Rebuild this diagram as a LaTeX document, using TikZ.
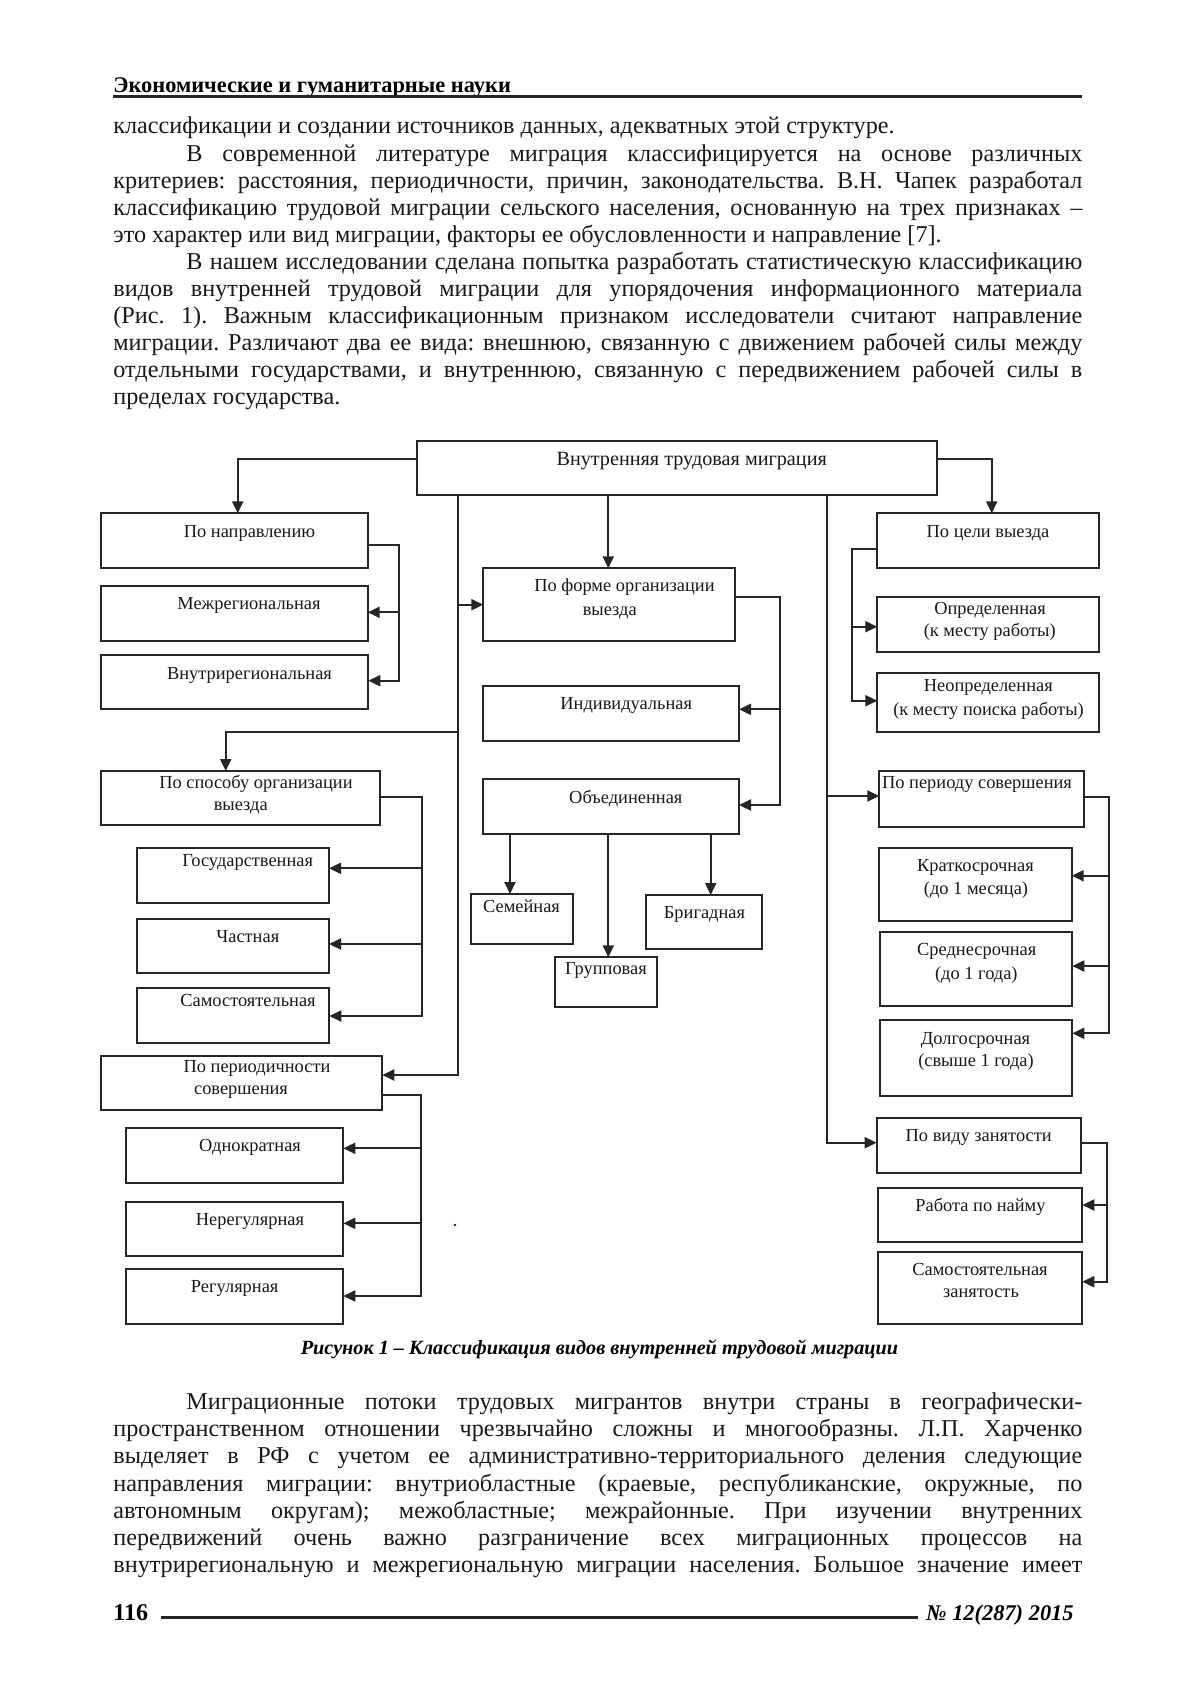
\documentclass[tikz,border=0pt]{standalone}
\usepackage{fontspec}
\setmainfont{Liberation Serif}
\usetikzlibrary{fit,arrows.meta}
\frenchspacing
\newcommand\bx[5]{\node[box, fit={(#2,#3) (#4,#5)}] (#1) {};}
\newcommand\jstline[4]{\node[body] (#1) at (#2,#3) {\makebox[\dimexpr(1082pt-#2pt)/2\relax][s]{#4}};}
\newcommand\lftline[4]{\node[body] (#1) at (#2,#3) {#4};}
\begin{document}
\begin{tikzpicture}[x=0.5pt,y=-0.5pt,
  box/.style={draw=black!85, line width=1pt, inner sep=0pt, outer sep=0pt, rectangle},
  lbl/.style={inner sep=0pt, font=\fontsize{9.2}{11}\selectfont, text height=4.1pt, text depth=0pt, anchor=center, text=black!90},
  conn/.style={draw=black!85, line width=1pt},
  arr/.style={conn, -{Triangle[length=6pt,width=5.5pt]}},
  body/.style={inner sep=0pt, anchor=base west, font=\fontsize{12.1}{13.6}\selectfont, text=black!90},
]
\useasboundingbox[fill=white] (0,0) rectangle (1200,1698);

% header
\node[inner sep=0pt, anchor=base west, font=\fontsize{11.2}{13}\bfseries\selectfont] (hdr) at (113,92) {Экономические и гуманитарные науки};
\coordinate (hr1) at (113,96.5);
\coordinate (hr2) at (1082,96.5);
\draw[line width=1.5pt, black!85] (hr1) -- (hr2);

% body text top
\lftline{p1}{113}{133.9}{классификации и создании источников данных, адекватных этой структуре.}
\jstline{p2}{186}{161.0}{В современной литературе миграция классифицируется на основе различных}
\jstline{p3}{113}{188.1}{критериев: расстояния, периодичности, причин, законодательства. В.Н. Чапек разработал}
\jstline{p4}{113}{215.2}{классификацию трудовой миграции сельского населения, основанную на трех признаках –}
\lftline{p5}{113}{242.3}{это характер или вид миграции, факторы ее обусловленности и направление [7].}
\jstline{p6}{186}{269.4}{В нашем исследовании сделана попытка разработать статистическую классификацию}
\jstline{p7}{113}{296.5}{видов внутренней трудовой миграции для упорядочения информационного материала}
\jstline{p8}{113}{323.6}{(Рис. 1). Важным классификационным признаком исследователи считают направление}
\jstline{p9}{113}{350.7}{миграции. Различают два ее вида: внешнюю, связанную с движением рабочей силы между}
\jstline{p10}{113}{377.8}{отдельными государствами, и внутреннюю, связанную с передвижением рабочей силы в}
\lftline{p11}{113}{404.9}{пределах государства.}

% boxes
\bx{top}{416.7}{441}{936.7}{495}
\bx{napr}{100.7}{513.3}{367.7}{567.7}
\bx{mezh}{100.7}{586}{367.7}{640.7}
\bx{vnutr}{100.7}{655}{368.3}{709.3}
\bx{sposob}{100.7}{771}{380}{825}
\bx{gos}{136.7}{848.3}{329}{903.3}
\bx{chast}{136.7}{919}{329}{973.3}
\bx{samo}{136.7}{988.3}{329.3}{1043.3}
\bx{perd}{100.7}{1055.7}{382.3}{1110}
\bx{odno}{126}{1128.3}{343.3}{1183.3}
\bx{nereg}{126}{1201.7}{343.3}{1256}
\bx{reg}{126}{1269}{343.3}{1324}
\bx{forma}{483.3}{568.3}{735}{641}
\bx{indiv}{483.3}{686}{739}{740.7}
\bx{obed}{483.3}{779.3}{739}{834}
\bx{sem}{470.7}{894}{573.3}{944}
\bx{grup}{555}{957.3}{657.3}{1007.3}
\bx{brig}{646}{895}{761.7}{949.3}
\bx{celi}{877.3}{513.3}{1099.3}{567.7}
\bx{opr}{877.3}{596.7}{1099.3}{651.7}
\bx{neopr}{877.3}{673.3}{1099.3}{732.3}
\bx{per2}{879.3}{770.7}{1084.3}{827.3}
\bx{krat}{879.3}{847.7}{1071.7}{921}
\bx{sred}{880}{932.3}{1072.3}{1005.7}
\bx{dolg}{880}{1020}{1072.3}{1095.7}
\bx{vid}{876.7}{1118.3}{1081}{1173.3}
\bx{rab}{877.7}{1188.3}{1082.3}{1242.3}
\bx{samz}{878.3}{1251.7}{1082.3}{1324.3}

% labels
\node[lbl, font=\fontsize{10.1}{12}\selectfont] (top-t) at (691.7,461) {Внутренняя трудовая миграция};
\node[lbl] (napr-t) at (249.5,533) {По направлению};
\node[lbl] (mezh-t) at (249,605) {Межрегиональная};
\node[lbl] (vnutr-t) at (249.5,675.7) {Внутрирегиональная};
\node[lbl] (sposob-t1) at (256,784.3) {По способу организации};
\node[lbl] (sposob-t2) at (240.7,806.7) {выезда};
\node[lbl] (gos-t) at (247.7,862.7) {Государственная};
\node[lbl] (chast-t) at (247.8,938.3) {Частная};
\node[lbl] (samo-t) at (248,1002.7) {Самостоятельная};
\node[lbl] (perd-t1) at (257,1068.3) {По периодичности};
\node[lbl] (perd-t2) at (241,1090.7) {совершения};
\node[lbl] (odno-t) at (250,1147.7) {Однократная};
\node[lbl] (nereg-t) at (250,1221.7) {Нерегулярная};
\node[lbl] (reg-t) at (234.7,1288.3) {Регулярная};
\node[lbl] (forma-t1) at (624.5,587.7) {По форме организации};
\node[lbl] (forma-t2) at (609.7,611) {выезда};
\node[lbl] (indiv-t) at (626.2,705.7) {Индивидуальная};
\node[lbl] (obed-t) at (625.8,799.3) {Объединенная};
\node[lbl] (sem-t) at (521.5,908.3) {Семейная};
\node[lbl] (grup-t) at (606,970) {Групповая};
\node[lbl] (brig-t) at (704.5,914.3) {Бригадная};
\node[lbl] (celi-t) at (988,533) {По цели выезда};
\node[lbl] (opr-t1) at (990,610) {Определенная};
\node[lbl] (opr-t2) at (989.7,632.3) {(к месту работы)};
\node[lbl] (neopr-t1) at (988.3,687.7) {Неопределенная};
\node[lbl] (neopr-t2) at (988.5,711) {(к месту поиска работы)};
\node[lbl] (per2-t) at (977,784.3) {По периоду совершения};
\node[lbl] (krat-t1) at (975.5,867.7) {Краткосрочная};
\node[lbl] (krat-t2) at (976,890) {(до 1 месяца)};
\node[lbl] (sred-t1) at (976.7,951.7) {Среднесрочная};
\node[lbl] (sred-t2) at (976.3,975) {(до 1 года)};
\node[lbl] (dolg-t1) at (975.5,1040) {Долгосрочная};
\node[lbl] (dolg-t2) at (976,1062.3) {(свыше 1 года)};
\node[lbl] (vid-t) at (978.7,1137.7) {По виду занятости};
\node[lbl] (rab-t) at (980.5,1207.7) {Работа по найму};
\node[lbl] (samz-t1) at (980,1271.7) {Самостоятельная};
\node[lbl] (samz-t2) at (981,1293.3) {занятость};

% connector coordinates
\coordinate (aL) at (237.7,459.3);
\coordinate (aR) at (991.7,459.3);
\coordinate (aC) at (608.3,500);
\coordinate (tL) at (458.3,1075);
\coordinate (bS) at (225.7,732.3);
\coordinate (tR) at (826.7,1142.7);
\coordinate (bP) at (826.7,796);
\coordinate (bN) at (399,545);
\coordinate (n1) at (399,612.3);
\coordinate (n2) at (399,680.7);
\coordinate (bC) at (851.7,549.3);
\coordinate (c1) at (851.7,626.7);
\coordinate (c2) at (851.7,700.7);
\coordinate (bF) at (780,597.3);
\coordinate (f1) at (780,709.3);
\coordinate (f2) at (780,805);
\coordinate (d1) at (510,840);
\coordinate (d2) at (608.3,840);
\coordinate (d3) at (710.7,840);
\coordinate (bSp) at (421.7,796.7);
\coordinate (s1) at (421.7,868.3);
\coordinate (s2) at (421.7,944);
\coordinate (s3) at (421.7,1016);
\coordinate (bPd) at (421,1095);
\coordinate (r1) at (421,1148.3);
\coordinate (r2) at (421,1223.3);
\coordinate (r3) at (421,1296);
\coordinate (bQ) at (1109.3,796.7);
\coordinate (k1) at (1109.3,875.7);
\coordinate (k2) at (1109.3,966);
\coordinate (k3) at (1109.3,1033.3);
\coordinate (bV) at (1106.7,1143.3);
\coordinate (v1) at (1106.7,1205);
\coordinate (v2) at (1106.7,1281.7);

% connectors from the top box
\draw[arr] (top.west |- aL) -- (aL) -- (aL |- napr.north);
\draw[arr] (top.east |- aR) -- (aR) -- (aR |- celi.north);
\draw[arr] (top.south -| aC) -- (forma.north -| aC);
\draw[arr] (top.south -| tL) -- (tL) -- (perd.east |- tL);
\draw[arr] (tL |- forma.west) -- (forma.west);
\draw[arr] (tL |- bS) -- (bS) -- (bS |- sposob.north);
\draw[arr] (top.south -| tR) -- (tR) -- (vid.west |- tR);
\draw[arr] (bP) -- (per2.west |- bP);

% brackets
\draw[arr] (napr.east |- bN) -- (bN) -- (n2) -- (vnutr.east |- n2);
\draw[arr] (n1) -- (mezh.east |- n1);
\draw[arr] (celi.west |- bC) -- (bC) -- (c2) -- (neopr.west |- c2);
\draw[arr] (c1) -- (opr.west |- c1);
\draw[arr] (forma.east |- bF) -- (bF) -- (f2) -- (obed.east |- f2);
\draw[arr] (f1) -- (indiv.east |- f1);
\draw[arr] (obed.south -| d1) -- (sem.north -| d1);
\draw[arr] (obed.south -| d2) -- (grup.north -| d2);
\draw[arr] (obed.south -| d3) -- (brig.north -| d3);
\draw[arr] (sposob.east |- bSp) -- (bSp) -- (s3) -- (samo.east |- s3);
\draw[arr] (s1) -- (gos.east |- s1);
\draw[arr] (s2) -- (chast.east |- s2);
\draw[arr] (perd.east |- bPd) -- (bPd) -- (r3) -- (reg.east |- r3);
\draw[arr] (r1) -- (odno.east |- r1);
\draw[arr] (r2) -- (nereg.east |- r2);
\draw[arr] (per2.east |- bQ) -- (bQ) -- (k3) -- (dolg.east |- k3);
\draw[arr] (k1) -- (krat.east |- k1);
\draw[arr] (k2) -- (sred.east |- k2);
\draw[arr] (vid.east |- bV) -- (bV) -- (v2) -- (samz.east |- v2);
\draw[arr] (v1) -- (rab.east |- v1);

\fill[black!85] (455,1225) circle (0.7pt);

% caption
\node[inner sep=0pt, anchor=center, font=\fontsize{10.1}{12}\bfseries\itshape\selectfont, text height=4.6pt, text depth=0pt] (cap) at (599.5,1350) {Рисунок 1 – Классификация видов внутренней трудовой миграции};

% body text bottom
\jstline{q1}{186}{1409.4}{Миграционные потоки трудовых мигрантов внутри страны в географически-}
\jstline{q2}{113}{1436.6}{пространственном отношении чрезвычайно сложны и многообразны. Л.П. Харченко}
\jstline{q3}{113}{1463.8}{выделяет в РФ с учетом ее административно-территориального деления следующие}
\jstline{q4}{113}{1491.0}{направления миграции: внутриобластные (краевые, республиканские, окружные, по}
\jstline{q5}{113}{1518.2}{автономным округам); межобластные; межрайонные. При изучении внутренних}
\jstline{q6}{113}{1545.4}{передвижений очень важно разграничение всех миграционных процессов на}
\jstline{q7}{113}{1572.6}{внутрирегиональную и межрегиональную миграции населения. Большое значение имеет}

% footer
\node[inner sep=0pt, anchor=base west, font=\fontsize{12}{14}\bfseries\selectfont] (pg) at (113,1620) {116};
\node[inner sep=0pt, anchor=base east, font=\fontsize{11.2}{13}\bfseries\itshape\selectfont] (iss) at (1074,1620) {№ 12(287) 2015};
\coordinate (fl1) at (160.7,1617.5);
\coordinate (fl2) at (918,1617.5);
\draw[line width=1.5pt, black!85] (fl1) -- (fl2);
\end{tikzpicture}
\end{document}
